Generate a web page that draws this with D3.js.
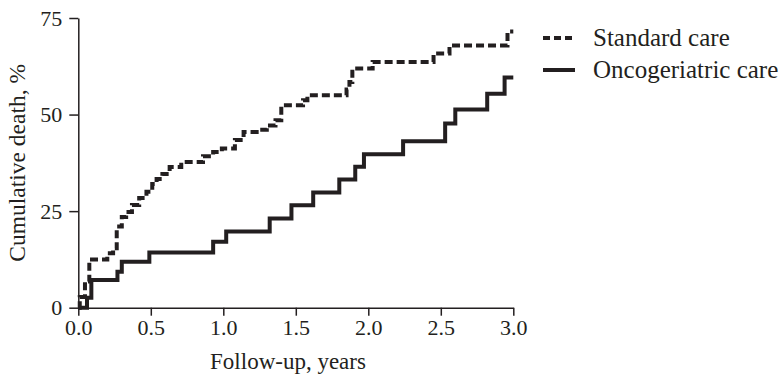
<!DOCTYPE html>
<html>
<head>
<meta charset="utf-8">
<script src="https://cdn.jsdelivr.net/npm/d3@7"></script>
<style>
  body { margin: 0; background: #fff; }
  svg text { font-family: "Liberation Serif", "DejaVu Serif", serif; fill: #231f20; }
</style>
</head>
<body>
<svg id="chart"></svg>
<script>
const width = 781;
const height = 377;

// Kaplan-Meier style cumulative death
const standardTimes = [0, 0.01, 0.046, 0.076, 0.2, 0.24, 0.265, 0.3, 0.33, 0.37, 0.42, 0.47, 0.51, 0.54, 0.58, 0.63, 0.71, 0.86, 0.93, 0.99, 1.08, 1.14, 1.23, 1.30, 1.36, 1.40, 1.55, 1.58, 1.85, 1.87, 1.89, 2.03, 2.45, 2.56, 2.96, 3.0];
const standardValues = [0, 2.8, 6.8, 12.5, 14.1, 15.4, 21, 23.5, 24.8, 26.6, 28.4, 30, 32, 33.3, 34.6, 36.4, 37.7, 39.2, 40.3, 41.2, 43.4, 45.5, 46.1, 47.2, 48.5, 52.4, 53.7, 55, 56.5, 58.4, 61.9, 63.6, 65.8, 67.9, 71.5, 71.5];

const oncoTimes = [0, 0.06, 0.09, 0.27, 0.30, 0.49, 0.93, 1.02, 1.32, 1.47, 1.62, 1.80, 1.91, 1.97, 2.24, 2.53, 2.60, 2.82, 2.94, 3.0];
const oncoValues = [0, 2.6, 7.2, 9.3, 11.9, 14.3, 17.1, 19.7, 23.1, 26.5, 29.8, 33.2, 36.5, 39.7, 43.1, 47.7, 51.3, 55.4, 59.6, 59.6];

const xTicks = [0, 0.5, 1.0, 1.5, 2.0, 2.5, 3.0];
const yTicks = [0, 25, 50, 75];

const seriesNames = ["Standard care", "Oncogeriatric care"];
const ink = "#231f20";

const svg = d3.select("#chart")
    .attr("width", width)
    .attr("height", height);

const x = d3.scaleLinear().domain([0, 3]).range([78.3, 513.3]);
const y = d3.scaleLinear().domain([0, 75]).range([307.7, 18]);

// axes
const xAxis = svg.append("g")
    .attr("transform", `translate(0,${y(0)})`)
    .call(d3.axisBottom(x).tickValues(xTicks).tickFormat(d3.format(".1f")).tickSize(8).tickPadding(4).tickSizeOuter(0));

const yAxis = svg.append("g")
    .attr("transform", `translate(${x(0)},0)`)
    .call(d3.axisLeft(y).tickValues(yTicks).tickSize(9).tickPadding(7).tickSizeOuter(0));

[xAxis, yAxis].forEach(ax => {
    ax.select(".domain").attr("stroke", ink).attr("stroke-width", 1.5);
    ax.selectAll(".tick line").attr("stroke", ink).attr("stroke-width", 1.5);
    ax.selectAll(".tick text").attr("font-size", 22).attr("fill", ink)
        .style("font-family", "'Liberation Serif', serif");
});

// axis titles
svg.append("text")
    .attr("x", 288)
    .attr("y", 369)
    .attr("text-anchor", "middle")
    .attr("font-size", 23)
    .text("Follow-up, years");

svg.append("text")
    .attr("transform", `translate(25,${y(37.5)}) rotate(-90)`)
    .attr("text-anchor", "middle")
    .attr("font-size", 23.5)
    .text("Cumulative death, %");

// curves
const line = d3.line()
    .x(d => x(d[0]))
    .y(d => y(d[1]))
    .curve(d3.curveStepAfter);

const standardData = d3.zip(standardTimes, standardValues);
const oncoData = d3.zip(oncoTimes, oncoValues);

svg.append("path")
    .datum(oncoData)
    .attr("d", line)
    .attr("fill", "none")
    .attr("stroke", ink)
    .attr("stroke-width", 4);

svg.append("path")
    .datum(standardData)
    .attr("d", line)
    .attr("fill", "none")
    .attr("stroke", ink)
    .attr("stroke-width", 4)
    .attr("stroke-dasharray", "8,4");

// legend
const legend = svg.append("g").attr("transform", "translate(543,0)");
const legendY = [38, 70];
seriesNames.forEach((name, i) => {
    legend.append("line")
        .attr("x1", 0).attr("x2", 32)
        .attr("y1", legendY[i]).attr("y2", legendY[i])
        .attr("stroke", ink)
        .attr("stroke-width", 4)
        .attr("stroke-dasharray", i === 0 ? "7,4" : null);
    legend.append("text")
        .attr("x", 50)
        .attr("y", legendY[i])
        .attr("dy", "0.33em")
        .attr("font-size", 25)
        .text(name);
});
</script>
</body>
</html>
